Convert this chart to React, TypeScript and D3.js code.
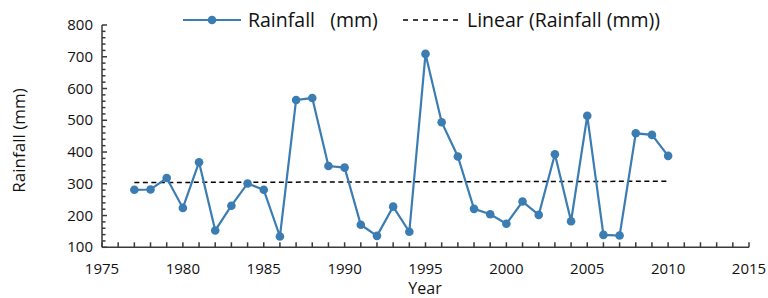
import React, { useEffect, useRef } from "react"
import * as d3 from "d3"

const years = [
  1977, 1978, 1979, 1980, 1981, 1982, 1983, 1984, 1985, 1986, 1987, 1988,
  1989, 1990, 1991, 1992, 1993, 1994, 1995, 1996, 1997, 1998, 1999, 2000,
  2001, 2002, 2003, 2004, 2005, 2006, 2007, 2008, 2009, 2010,
]
const rainfall = [
  281, 282, 318, 224, 368, 153, 231, 301, 281, 134, 564, 570,
  356, 351, 171, 136, 228, 149, 709, 494, 386, 221, 204, 174,
  244, 202, 393, 182, 514, 139, 137, 459, 454, 388,
]
// trend line as drawn in the picture (start / end years and values)
const trendYears = [1977, 2010]
const trendValues = [304, 308]
const xTicks = [1975, 1980, 1985, 1990, 1995, 2000, 2005, 2010, 2015]
const yTicks = [100, 200, 300, 400, 500, 600, 700, 800]
const seriesName = "Rainfall   (mm)"
const trendName = "Linear (Rainfall (mm))"

const W = 768
const H = 298
const blue = "#3b7db3"
const axisColor = "#3a3a3a"
const font = "'Open Sans', sans-serif"

export default function App() {
  const ref = useRef<SVGSVGElement>(null)

  useEffect(() => {
    const svg = d3.select(ref.current)
    svg.selectAll("*").remove()

    const x = d3.scaleLinear().domain([1975, 2015]).range([102, 749])
    const y = d3.scaleLinear().domain([100, 800]).range([247.3, 25])

    svg
      .append("line")
      .attr("x1", x(trendYears[0]))
      .attr("x2", x(trendYears[1]))
      .attr("y1", y(trendValues[0]))
      .attr("y2", y(trendValues[1]))
      .attr("stroke", "#000")
      .attr("stroke-width", 1.5)
      .attr("stroke-dasharray", "5,3.5")

    const line = d3
      .line<number>()
      .x((d, i) => x(years[i]))
      .y(d => y(d))

    svg
      .append("path")
      .datum(rainfall)
      .attr("d", line)
      .attr("fill", "none")
      .attr("stroke", blue)
      .attr("stroke-width", 2.2)

    svg
      .selectAll("circle.pt")
      .data(rainfall)
      .enter()
      .append("circle")
      .attr("class", "pt")
      .attr("cx", (d, i) => x(years[i]))
      .attr("cy", d => y(d))
      .attr("r", 4.3)
      .attr("fill", blue)

    // axes
    const g = svg.append("g").attr("stroke", axisColor).attr("stroke-width", 1.5)
    g.append("line")
      .attr("x1", x(1975)).attr("x2", x(1975))
      .attr("y1", y(800)).attr("y2", y(100))
    g.append("line")
      .attr("x1", x(1975)).attr("x2", x(2015))
      .attr("y1", y(100)).attr("y2", y(100))

    const yMinor = d3.range(100, 801, 20)
    g.selectAll("line.ym")
      .data(yMinor)
      .enter()
      .append("line")
      .attr("x1", x(1975))
      .attr("x2", d => x(1975) + (d % 100 === 0 ? 5 : 3.5))
      .attr("y1", d => y(d))
      .attr("y2", d => y(d))

    const xMinor = d3.range(1975, 2016, 1)
    g.selectAll("line.xm")
      .data(xMinor)
      .enter()
      .append("line")
      .attr("x1", d => x(d))
      .attr("x2", d => x(d))
      .attr("y1", y(100))
      .attr("y2", y(100) - 5)

    svg
      .selectAll("text.yt")
      .data(yTicks)
      .enter()
      .append("text")
      .attr("x", x(1975) - 9)
      .attr("y", d => y(d) + 5)
      .attr("text-anchor", "end")
      .attr("font-family", font)
      .attr("font-size", 15)
      .attr("fill", "#111")
      .text(d => d)

    svg
      .selectAll("text.xt")
      .data(xTicks)
      .enter()
      .append("text")
      .attr("x", d => x(d))
      .attr("y", 274)
      .attr("text-anchor", "middle")
      .attr("font-family", font)
      .attr("font-size", 15)
      .attr("fill", "#111")
      .text(d => d)

    svg
      .append("text")
      .attr("x", 425)
      .attr("y", 294)
      .attr("text-anchor", "middle")
      .attr("font-family", font)
      .attr("font-size", 16)
      .attr("fill", "#111")
      .text("Year")

    svg
      .append("text")
      .attr("transform", `translate(25,140.5) rotate(-90)`)
      .attr("text-anchor", "middle")
      .attr("font-family", font)
      .attr("font-size", 17)
      .attr("fill", "#111")
      .text("Rainfall (mm)")

    // legend
    const leg = svg.append("g")
    leg.append("line")
      .attr("x1", 183).attr("x2", 241).attr("y1", 20).attr("y2", 20)
      .attr("stroke", blue).attr("stroke-width", 2.2)
    leg.append("circle").attr("cx", 212).attr("cy", 20).attr("r", 4.3).attr("fill", blue)
    leg.append("text")
      .attr("x", 248).attr("y", 27)
      .attr("font-family", font).attr("font-size", 19.5).attr("fill", "#111")
      .attr("xml:space", "preserve")
      .style("white-space", "pre")
      .text(seriesName)
    leg.append("line")
      .attr("x1", 403).attr("x2", 463).attr("y1", 20).attr("y2", 20)
      .attr("stroke", "#000").attr("stroke-width", 1.5)
      .attr("stroke-dasharray", "5,5")
    leg.append("text")
      .attr("x", 467).attr("y", 27)
      .attr("font-family", font).attr("font-size", 19.5).attr("fill", "#111")
      .text(trendName)
  }, [])

  return (
    <svg
      ref={ref}
      width={W}
      height={H}
      style={{ position: "absolute", left: 0, top: 0, background: "#fff" }}
    />
  )
}
